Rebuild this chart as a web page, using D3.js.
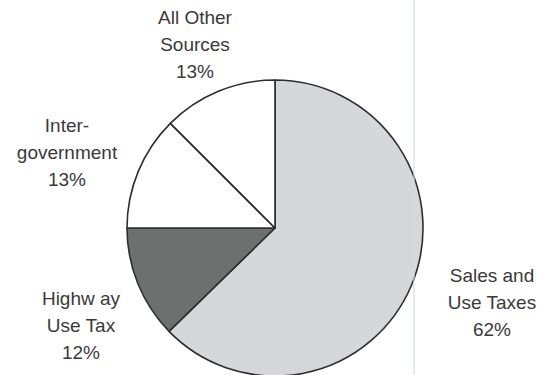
<!DOCTYPE html>
<html>
<head>
<meta charset="utf-8">
<script src="https://cdn.jsdelivr.net/npm/d3@7"></script>
<style>
  body { margin: 0; background: #fff; }
  .lbl { font-family: "Liberation Sans", Arial, sans-serif; font-size: 19px; fill: #3a3a3a; }
</style>
</head>
<body>
<div id="chart"></div>
<script>
// slices, clockwise from 12 o'clock
let categories = ["Sales and Use Taxes", "Highway Use Tax", "Intergovernment", "All Other Sources"];
let shares = [62.7, 12.3, 12.5, 12.5];
let pctLabels = ["62%", "12%", "13%", "13%"];
let labelLines = [
  ["Sales and", "Use Taxes"],
  ["Highw ay", "Use Tax"],
  ["Inter-", "government"],
  ["All Other", "Sources"]
];
let fills = ["#d5d7db", "#6c706f", "#ffffff", "#ffffff"];

let svgWidth = 538;
let svgHeight = 375;
let cx = 275, cy = 228, radius = 148;

let svg = d3.select("#chart")
  .append("svg")
  .attr("width", svgWidth)
  .attr("height", svgHeight);

let data = categories.map((c, i) => ({name: c, value: shares[i], pct: pctLabels[i], lines: labelLines[i], fill: fills[i]}));

let pie = d3.pie()
  .sort(null)
  .value(d => d.value);

let arc = d3.arc()
  .innerRadius(0)
  .outerRadius(radius);

let g = svg.append("g")
  .attr("transform", `translate(${cx}, ${cy})`);

g.selectAll("path")
  .data(pie(data))
  .enter()
  .append("path")
  .attr("d", arc)
  .attr("fill", d => d.data.fill)
  .attr("stroke", "#2e2e2e")
  .attr("stroke-width", 1.6)
  .attr("stroke-linejoin", "round");

// faint vertical rule from the scanned page
svg.append("line")
  .attr("x1", 414).attr("x2", 414)
  .attr("y1", 0).attr("y2", svgHeight)
  .attr("stroke", "#c6e3d0")
  .attr("stroke-opacity", 0.55)
  .attr("stroke-width", 2);

// label anchor points (centre of first line)
let labelPos = [[492, 275], [81, 298], [67, 125], [195, 17]];
let lineGap = 27;

data.forEach(function(d, i) {
  let t = svg.append("text")
    .attr("class", "lbl")
    .attr("text-anchor", "middle")
    .attr("x", labelPos[i][0])
    .attr("y", labelPos[i][1]);
  d.lines.concat([d.pct]).forEach(function(line, j) {
    t.append("tspan")
      .attr("x", labelPos[i][0])
      .attr("y", labelPos[i][1] + j * lineGap)
      .attr("dy", "0.35em")
      .text(line);
  });
});
</script>
</body>
</html>
